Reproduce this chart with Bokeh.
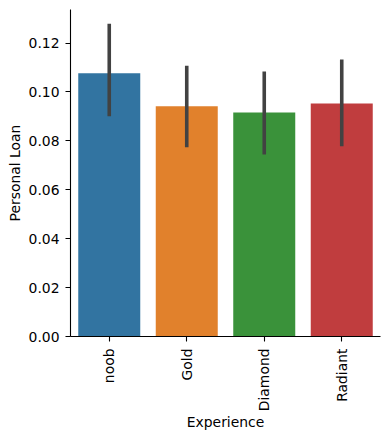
import math
from bokeh.plotting import figure
from bokeh.models import ColumnDataSource, FactorRange, Range1d, FixedTicker, NumeralTickFormatter
from bokeh.embed import file_html
from bokeh.resources import INLINE

categories = ["noob", "Gold", "Diamond", "Radiant"]
values = [0.1076, 0.0941, 0.0916, 0.0953]
err_low = [0.0901, 0.0774, 0.0744, 0.0778]
err_high = [0.1279, 0.1107, 0.1084, 0.1133]
colors = ["#3274a1", "#e1812c", "#3a923a", "#c03d3e"]
y_ticks = [0.0, 0.02, 0.04, 0.06, 0.08, 0.10, 0.12]

src = ColumnDataSource(dict(cat=categories, val=values, lo=err_low, hi=err_high, color=colors))

p = figure(width=390, height=438, output_backend="svg", toolbar_location=None,
           x_range=FactorRange(factors=categories, range_padding=0),
           y_range=Range1d(0, 0.1337),
           min_border_left=70, min_border_right=10, min_border_top=9, min_border_bottom=102)

p.vbar(x="cat", top="val", width=0.8, color="color", line_color=None, source=src)
p.segment(x0="cat", x1="cat", y0="lo", y1="hi", line_color="#424242", line_width=3.6, source=src)

p.outline_line_color = None
p.xgrid.grid_line_color = None
p.ygrid.grid_line_color = None

font = "DejaVu Sans"
for ax in (p.xaxis[0], p.yaxis[0]):
    ax.axis_line_color = "black"
    ax.axis_line_width = 1.1
    ax.major_tick_line_color = "black"
    ax.major_tick_line_width = 1.1
    ax.major_tick_out = 5
    ax.major_tick_in = 0
    ax.minor_tick_line_color = None
    ax.major_label_text_font = font
    ax.major_label_text_font_size = "13.9px"
    ax.major_label_text_color = "black"
    ax.axis_label_text_font = font
    ax.axis_label_text_font_size = "13.9px"
    ax.axis_label_text_font_style = "normal"
    ax.axis_label_text_color = "black"

p.yaxis.ticker = FixedTicker(ticks=y_ticks)
p.yaxis.formatter = NumeralTickFormatter(format="0.00")
p.yaxis.axis_label = "Personal Loan"
p.yaxis.major_label_standoff = 6
p.yaxis.axis_label_standoff = 3

p.xaxis.axis_label = "Experience"
p.xaxis.major_label_orientation = math.pi / 2
p.xaxis.major_label_standoff = 7
p.xaxis.axis_label_standoff = 0

open("out.html", "w").write(file_html(p, INLINE))
